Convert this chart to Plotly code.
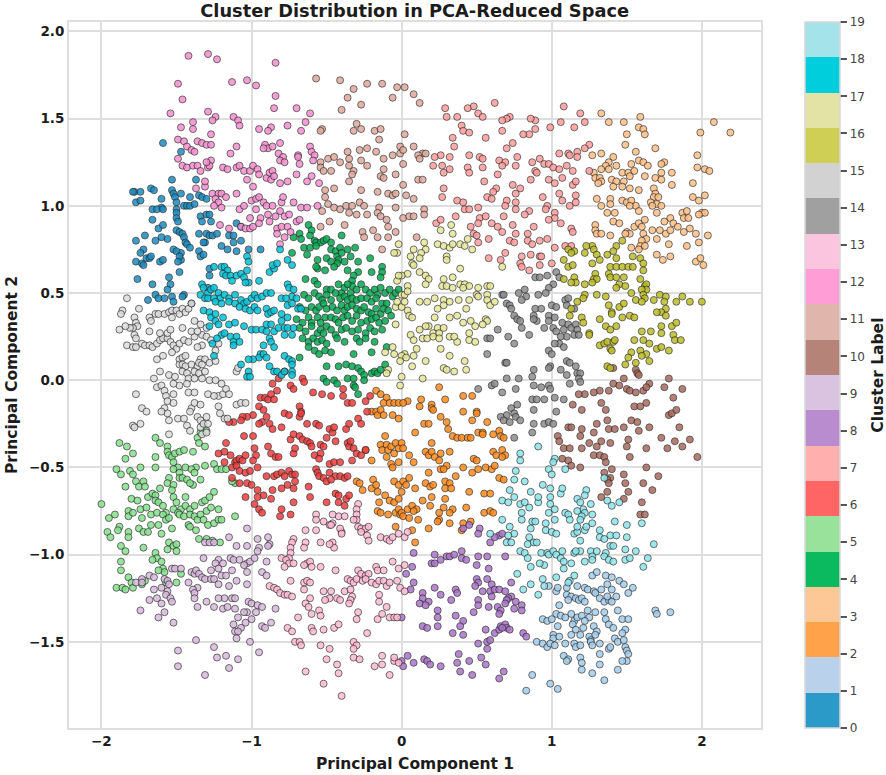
"""Cluster scatter in PCA-reduced space, 20 discrete clusters with a stepped colour bar."""
import plotly.graph_objects as go

FONT = "DejaVu Sans"
TICKS_X = [-2, -1, 0, 1, 2]
TICKS_Y = [-1.5, -1.0, -0.5, 0.0, 0.5, 1.0, 1.5, 2.0]
# colour bar bands are paler than the points themselves in the picture
BAR_COLORS = ["#2c9ac9", "#b9d1ea", "#ffa24a", "#fdc896", "#0bb95e", "#98e29b", "#ff6565", "#ffb0ae",
              "#b98ccf", "#d9c3e0", "#b58378", "#e0b5ab", "#ff9dd6", "#fbc5df", "#a0a0a0", "#d2d2d2",
              "#d0cf55", "#e4e3a6", "#00cedd", "#a3e3e9"]
POINT_COLORS = ["#1c8cc0", "#a4cdeb", "#ff8a1c", "#ffbf85", "#05a852", "#84e08c", "#ee3d3d", "#ff9c9c",
                "#aa74c8", "#d8b8dc", "#a86a5e", "#dfa99c", "#f58fcf", "#ffbad4", "#8c8c8c", "#dcdcdc",
                "#bcbc28", "#e6e69a", "#00c3d8", "#8ce4ea"]

# points, one list per cluster
C0 = [(-1.72,0.75),(-1.78,1.08),(-1.79,1.08),(-1.74,1.08),(-1.77,1.02),(-1.74,1.03),(-1.67,1.10),(-1.65,1.09),(-1.60,1.04),(-1.60,0.99),(-1.66,0.98),(-1.63,0.98),(-1.59,0.98),(-1.53,1.15),(-1.53,1.09),(-1.52,1.07),(-1.51,1.05),(-1.47,1.07),(-1.50,1.02),(-1.45,1.00),(-1.43,1.00),(-1.41,1.00),(-1.38,1.01),(-1.50,0.98),(-1.50,0.96),(-1.50,0.93),(-1.49,0.91),(-1.37,1.15),(-1.41,1.05),(-1.35,1.06),(-1.33,1.05),(-1.30,1.04),(-1.59,1.36),(-1.47,1.31),(-1.34,0.94),(-1.33,0.91),(-1.30,0.95),(-1.28,0.95),(-1.27,0.91),(-1.66,0.92),(-1.62,0.87),(-1.59,0.89),(-1.50,0.86),(-1.48,0.85),(-1.46,0.84),(-1.45,0.82),(-1.44,0.79),(-1.43,0.78),(-1.35,0.84),(-1.30,0.84),(-1.28,0.83),(-1.26,0.83),(-1.23,0.84),(-1.31,0.79),(-1.32,0.79),(-1.15,0.83),(-1.12,0.83),(-1.12,0.79),(-1.07,0.80),(-1.10,0.90),(-1.07,0.88),(-1.77,0.80),(-1.71,0.83),(-1.64,0.80),(-1.56,0.81),(-1.52,0.75),(-1.60,0.82),(-1.47,0.73),(-1.50,0.74),(-1.41,0.76),(-1.35,0.74),(-1.34,0.71),(-1.32,0.72),(-1.20,0.77),(-1.16,0.75),(-1.10,0.74),(-1.02,0.75),(-0.94,0.75),(-1.74,0.73),(-1.77,0.68),(-1.73,0.67),(-1.72,0.66),(-1.70,0.70),(-1.68,0.70),(-1.67,0.71),(-1.61,0.68),(-1.59,0.69),(-1.47,0.69),(-1.48,0.71),(-1.49,0.68),(-1.48,0.62),(-1.76,0.58),(-1.66,0.55),(-1.55,0.59),(-1.54,0.55),(-1.56,0.52),(-1.53,0.48),(-1.64,0.49),(-1.62,0.47),(-1.58,0.47),(-1.69,0.46),(-1.52,0.45),(-1.45,0.49),(-1.46,0.48),(-1.40,0.44),(-1.28,0.64),(-1.28,0.60),(-1.29,0.53)]
C1 = [(1.27,-1.12),(1.30,-1.10),(1.36,-1.12),(1.40,-1.13),(1.45,-1.15),(1.48,-1.17),(1.54,-1.19),(1.51,-1.22),(1.37,-1.17),(1.40,-1.20),(0.98,-1.18),(1.03,-1.21),(1.04,-1.19),(1.10,-1.19),(1.17,-1.18),(1.22,-1.19),(1.24,-1.20),(1.28,-1.21),(1.29,-1.22),(1.33,-1.20),(1.10,-1.23),(1.13,-1.24),(1.16,-1.25),(1.18,-1.26),(1.20,-1.25),(1.11,-1.26),(1.22,-1.27),(1.32,-1.25),(1.35,-1.27),(1.38,-1.26),(1.40,-1.27),(1.37,-1.24),(1.43,-1.24),(1.05,-1.29),(1.13,-1.34),(1.03,-1.34),(1.06,-1.35),(1.09,-1.36),(1.15,-1.38),(1.17,-1.36),(1.20,-1.35),(1.24,-1.32),(1.25,-1.36),(1.22,-1.38),(1.29,-1.33),(1.35,-1.33),(1.44,-1.32),(1.36,-1.37),(1.38,-1.40),(1.41,-1.42),(1.47,-1.37),(1.51,-1.37),(1.49,-1.43),(1.47,-1.45),(0.94,-1.37),(0.97,-1.38),(1.00,-1.37),(1.04,-1.41),(1.14,-1.40),(1.16,-1.43),(1.21,-1.42),(1.28,-1.41),(1.30,-1.44),(1.01,-1.46),(1.01,-1.48),(1.05,-1.47),(1.13,-1.46),(1.19,-1.46),(1.25,-1.47),(1.26,-1.49),(1.29,-1.46),(1.42,-1.48),(1.44,-1.50),(1.48,-1.49),(0.90,-1.50),(0.94,-1.51),(0.97,-1.53),(0.99,-1.51),(1.02,-1.52),(1.09,-1.51),(1.15,-1.51),(1.16,-1.53),(1.19,-1.52),(1.26,-1.50),(1.27,-1.52),(1.32,-1.51),(1.38,-1.54),(1.39,-1.53),(1.49,-1.53),(1.50,-1.55),(1.08,-1.58),(1.11,-1.60),(1.10,-1.61),(1.19,-1.59),(1.20,-1.62),(1.32,-1.57),(1.51,-1.57),(1.50,-1.61),(1.32,-1.63),(1.20,-1.66),(1.27,-1.68),(1.44,-1.66),(1.47,-1.61),(1.35,-1.72),(0.87,-1.69),(0.99,-1.74),(1.04,-1.77),(0.83,-1.78),(1.69,-1.32),(1.70,-1.34),(1.79,-1.33)]
C2 = [(-0.17,-0.06),(-0.14,-0.08),(-0.10,-0.10),(-0.12,-0.13),(-0.08,-0.13),(-0.05,-0.13),(-0.02,-0.13),(-0.20,-0.18),(-0.17,-0.18),(-0.16,-0.20),(-0.14,-0.17),(-0.12,-0.20),(-0.06,-0.20),(-0.02,-0.22),(-0.11,-0.32),(-0.14,-0.37),(-0.13,-0.40),(-0.10,-0.37),(-0.09,-0.40),(-0.07,-0.38),(-0.05,-0.42),(-0.04,-0.36),(-0.02,-0.39),(0.00,-0.36),(-0.24,-0.40),(-0.20,-0.46),(-0.10,-0.44),(-0.07,-0.48),(-0.06,-0.50),(-0.02,-0.47),(-0.30,-0.58),(-0.28,-0.59),(-0.26,-0.63),(-0.19,-0.57),(-0.20,-0.62),(-0.17,-0.60),(-0.16,-0.64),(-0.11,-0.66),(-0.05,-0.58),(-0.02,-0.60),(-0.08,-0.69),(-0.05,-0.70),(-0.02,-0.68),(-0.15,-0.70),(-0.04,-0.76),(-0.02,-0.74),(-0.01,-0.77),(-0.16,-0.75),(-0.14,-0.76),(-0.09,-0.77),(-0.04,-0.84),(0.00,-0.64),(0.00,-0.76),(0.25,-0.04),(0.41,-0.09),(0.47,-0.09),(0.13,-0.11),(0.29,-0.11),(0.04,-0.12),(0.01,-0.13),(0.12,-0.15),(0.20,-0.14),(0.20,-0.16),(0.21,-0.17),(0.41,-0.18),(0.50,-0.18),(0.50,-0.19),(0.26,-0.21),(0.30,-0.24),(0.47,-0.23),(0.57,-0.24),(0.15,-0.25),(0.18,-0.25),(0.09,-0.30),(0.31,-0.28),(0.34,-0.32),(0.37,-0.33),(0.40,-0.33),(0.44,-0.33),(0.46,-0.33),(0.51,-0.30),(0.54,-0.30),(0.54,-0.31),(0.61,-0.31),(0.65,-0.29),(0.66,-0.32),(0.68,-0.33),(0.20,-0.36),(0.01,-0.39),(0.05,-0.43),(0.08,-0.47),(0.16,-0.41),(0.18,-0.43),(0.20,-0.41),(0.22,-0.44),(0.26,-0.42),(0.25,-0.46),(0.32,-0.41),(0.61,-0.41),(0.63,-0.43),(0.67,-0.40),(0.69,-0.43),(0.67,-0.44),(0.48,-0.45),(0.50,-0.46),(0.30,-0.49),(0.26,-0.51),(0.28,-0.51),(0.18,-0.53),(0.41,-0.50),(0.47,-0.53),(0.51,-0.51),(0.56,-0.50),(0.60,-0.51),(0.62,-0.49),(0.36,-0.55),(0.65,-0.56),(0.68,-0.57),(0.05,-0.56),(0.01,-0.58),(0.03,-0.60),(0.09,-0.62),(0.16,-0.59),(0.19,-0.61),(0.21,-0.60),(0.29,-0.58),(0.32,-0.59),(0.29,-0.62),(0.33,-0.62),(0.45,-0.64),(0.55,-0.65),(0.59,-0.65),(0.20,-0.67),(0.29,-0.68),(0.14,-0.69),(0.04,-0.74),(0.07,-0.72),(0.10,-0.74),(0.08,-0.75),(0.19,-0.72),(0.28,-0.73),(0.34,-0.74),(0.32,-0.76),(0.43,-0.73),(0.55,-0.76),(0.59,-0.75),(0.61,-0.76),(0.25,-0.76),(0.25,-0.80),(0.24,-0.81),(0.32,-0.82),(0.11,-0.80),(0.01,-0.78),(0.05,-0.79),(0.18,-0.85),(0.07,-0.86),(0.40,-0.86),(0.41,-0.82),(0.46,-0.81),(0.09,-0.93)]
C3 = [(1.33,1.53),(1.38,1.48),(1.48,1.48),(1.59,1.51),(1.58,1.45),(1.61,1.44),(1.62,1.41),(1.50,1.41),(1.49,1.35),(1.56,1.31),(1.69,1.33),(1.27,1.29),(1.33,1.30),(1.41,1.28),(1.38,1.25),(1.36,1.23),(1.33,1.21),(1.38,1.21),(1.43,1.23),(1.53,1.24),(1.58,1.26),(1.61,1.25),(1.64,1.23),(1.75,1.25),(1.73,1.24),(1.28,1.19),(1.29,1.16),(1.32,1.16),(1.33,1.14),(1.31,1.13),(1.40,1.15),(1.47,1.19),(1.51,1.19),(1.55,1.20),(1.52,1.17),(1.43,1.14),(1.48,1.14),(1.41,1.11),(1.47,1.11),(1.52,1.10),(1.58,1.09),(1.62,1.17),(1.69,1.16),(1.73,1.19),(1.73,1.15),(1.80,1.19),(1.80,1.12),(1.68,1.10),(1.69,1.07),(1.68,1.05),(1.71,1.05),(1.66,1.02),(1.70,1.01),(1.67,1.00),(1.73,1.00),(1.70,0.96),(1.30,1.04),(1.39,1.04),(1.33,1.00),(1.39,1.01),(1.37,0.96),(1.42,0.96),(1.47,1.03),(1.50,1.02),(1.53,1.03),(1.56,1.00),(1.58,0.97),(1.52,1.00),(1.41,0.91),(1.45,0.90),(1.29,0.89),(1.29,0.86),(1.30,0.84),(1.33,0.84),(1.39,0.83),(1.50,0.85),(1.55,0.88),(1.58,0.90),(1.62,0.92),(1.60,0.88),(1.52,0.84),(1.49,0.84),(1.61,0.84),(1.63,0.81),(1.60,0.80),(1.59,0.77),(1.62,0.77),(1.58,0.75),(1.53,0.76),(1.67,0.86),(1.72,0.86),(1.75,0.91),(1.79,0.93),(1.81,0.90),(1.76,0.84),(1.79,0.86),(1.84,0.88),(1.88,0.85),(1.92,0.87),(1.96,0.84),(1.78,0.78),(1.90,0.77),(1.98,0.79),(2.04,0.83),(1.70,0.81),(1.70,0.72),(1.74,0.69),(1.79,0.71),(1.96,0.68),(1.99,0.70),(2.01,0.66),(1.97,1.29),(1.97,1.22),(2.02,1.21),(2.05,1.20),(1.94,1.13),(2.02,1.06),(1.94,1.05),(1.98,1.03),(2.00,0.96),(2.02,0.96),(1.98,0.95),(1.87,0.96),(1.90,0.97),(1.88,0.93),(1.91,0.93),(1.99,1.42),(2.08,1.48),(2.19,1.42)]
C4 = [(-0.62,0.89),(-0.60,0.86),(-0.61,0.83),(-0.58,0.80),(-0.57,0.79),(-0.54,0.79),(-0.52,0.80),(-0.50,0.81),(-0.47,0.79),(-0.40,0.83),(-0.68,0.84),(-0.67,0.81),(-0.72,0.82),(-0.65,0.76),(-0.61,0.76),(-0.57,0.77),(-0.47,0.75),(-0.44,0.74),(-0.43,0.71),(-0.41,0.76),(-0.40,0.73),(-0.36,0.75),(-0.34,0.71),(-0.31,0.76),(-0.42,0.69),(-0.43,0.67),(-0.38,0.68),(-0.36,0.63),(-0.29,0.68),(-0.21,0.70),(-0.13,0.65),(-0.13,0.62),(-0.14,0.59),(-0.73,0.73),(-0.63,0.72),(-0.56,0.69),(-0.50,0.70),(-0.47,0.68),(-0.56,0.64),(-0.57,0.65),(-0.51,0.63),(-0.45,0.65),(-0.29,0.62),(-0.32,0.60),(-0.33,0.57),(-0.33,0.54),(-0.20,0.62),(-0.64,0.58),(-0.58,0.57),(-0.56,0.55),(-0.50,0.52),(-0.47,0.52),(-0.42,0.55),(-0.40,0.50),(-0.38,0.53),(-0.36,0.55),(-0.34,0.50),(-0.30,0.52),(-0.27,0.55),(-0.24,0.52),(-0.21,0.50),(-0.18,0.52),(-0.16,0.49),(-0.14,0.53),(-0.11,0.50),(-0.08,0.52),(-0.06,0.48),(-0.04,0.50),(-0.02,0.52),(-0.65,0.49),(-0.62,0.47),(-0.58,0.50),(-0.55,0.48),(-0.53,0.46),(-0.50,0.49),(-0.47,0.46),(-0.44,0.50),(-0.41,0.47),(-0.38,0.48),(-0.36,0.46),(-0.33,0.47),(-0.30,0.46),(-0.27,0.47),(-0.23,0.47),(-0.20,0.45),(-0.17,0.47),(-0.13,0.44),(-0.10,0.44),(-0.68,0.42),(-0.64,0.40),(-0.60,0.42),(-0.57,0.40),(-0.55,0.42),(-0.52,0.44),(-0.50,0.41),(-0.46,0.42),(-0.43,0.40),(-0.40,0.43),(-0.38,0.40),(-0.36,0.42),(-0.33,0.43),(-0.30,0.41),(-0.27,0.40),(-0.25,0.42),(-0.22,0.39),(-0.20,0.38),(-0.17,0.41),(-0.14,0.38),(-0.12,0.41),(-0.09,0.40),(-0.07,0.37),(-0.70,0.35),(-0.66,0.33),(-0.62,0.36),(-0.60,0.33),(-0.56,0.36),(-0.54,0.33),(-0.51,0.36),(-0.47,0.36),(-0.44,0.35),(-0.42,0.33),(-0.39,0.36),(-0.36,0.37),(-0.33,0.34),(-0.30,0.37),(-0.27,0.33),(-0.23,0.34),(-0.20,0.35),(-0.17,0.36),(-0.15,0.33),(-0.11,0.34),(-0.68,0.30),(-0.64,0.28),(-0.60,0.31),(-0.56,0.27),(-0.54,0.29),(-0.52,0.27),(-0.50,0.31),(-0.47,0.29),(-0.44,0.26),(-0.40,0.29),(-0.37,0.30),(-0.33,0.28),(-0.29,0.29),(-0.24,0.27),(-0.21,0.30),(-0.18,0.28),(-0.13,0.29),(-0.66,0.24),(-0.62,0.22),(-0.59,0.24),(-0.56,0.22),(-0.53,0.23),(-0.50,0.21),(-0.43,0.24),(-0.38,0.22),(-0.30,0.24),(-0.28,0.22),(-0.24,0.24),(-0.18,0.22),(-0.62,0.19),(-0.58,0.17),(-0.55,0.15),(-0.51,0.17),(-0.47,0.16),(-0.32,0.15),(-0.20,0.16),(-0.10,0.19),(-0.68,0.13),(-0.50,0.08),(-0.42,0.08),(-0.37,0.09),(-0.33,0.08),(-0.29,0.07),(-0.27,0.05),(-0.25,0.03),(-0.20,0.04),(-0.18,0.05),(-0.16,0.04),(-0.14,0.06),(-0.11,0.09),(-0.36,0.01),(-0.32,0.01),(-0.52,0.01),(-0.45,0.00),(-0.50,-0.01),(-0.43,-0.02),(-0.32,-0.03),(-0.31,-0.04),(-0.29,-0.08),(-0.25,0.00)]
C5 = [(-2.00,-0.71),(-1.95,-0.79),(-1.91,-0.77),(-1.96,-0.87),(-1.94,-0.90),(-1.88,-0.84),(-1.89,-0.86),(-1.82,-0.87),(-1.82,-0.90),(-1.88,-0.36),(-1.83,-0.38),(-1.79,-0.42),(-1.84,-0.45),(-1.90,-0.51),(-1.87,-0.54),(-1.81,-0.52),(-1.79,-0.54),(-1.74,-0.50),(-1.77,-0.58),(-1.84,-0.61),(-1.75,-0.61),(-1.72,-0.58),(-1.71,-0.61),(-1.69,-0.67),(-1.66,-0.65),(-1.64,-0.66),(-1.64,-0.50),(-1.64,-0.44),(-1.64,-0.33),(-1.61,-0.36),(-1.56,-0.38),(-1.56,-0.41),(-1.55,-0.43),(-1.53,-0.44),(-1.51,-0.42),(-1.48,-0.41),(-1.45,-0.40),(-1.39,-0.41),(-1.36,-0.33),(-1.35,-0.36),(-1.34,-0.30),(-1.30,-0.29),(-1.31,-0.38),(-1.37,-0.50),(-1.31,-0.49),(-1.25,-0.48),(-1.23,-0.51),(-1.20,-0.51),(-1.17,-0.51),(-1.11,-0.59),(-1.13,-0.58),(-1.52,-0.47),(-1.49,-0.50),(-1.52,-0.51),(-1.48,-0.53),(-1.44,-0.50),(-1.40,-0.51),(-1.38,-0.53),(-1.55,-0.56),(-1.56,-0.59),(-1.48,-0.56),(-1.46,-0.56),(-1.43,-0.57),(-1.39,-0.60),(-1.41,-0.59),(-1.34,-0.57),(-1.52,-0.60),(-1.53,-0.63),(-1.52,-0.67),(-1.61,-0.62),(-1.64,-0.69),(-1.62,-0.70),(-1.50,-0.70),(-1.44,-0.67),(-1.80,-0.68),(-1.76,-0.69),(-1.74,-0.74),(-1.70,-0.73),(-1.67,-0.77),(-1.63,-0.76),(-1.59,-0.72),(-1.57,-0.76),(-1.52,-0.74),(-1.47,-0.74),(-1.44,-0.72),(-1.41,-0.74),(-1.38,-0.72),(-1.33,-0.70),(-1.31,-0.69),(-1.28,-0.67),(-1.25,-0.64),(-1.30,-0.75),(-1.27,-0.73),(-1.22,-0.74),(-1.82,-0.75),(-1.82,-0.78),(-1.79,-0.76),(-1.73,-0.79),(-1.67,-0.83),(-1.59,-0.77),(-1.57,-0.80),(-1.55,-0.79),(-1.49,-0.76),(-1.48,-0.77),(-1.45,-0.78),(-1.41,-0.77),(-1.38,-0.78),(-1.36,-0.80),(-1.42,-0.83),(-1.41,-0.84),(-1.34,-0.77),(-1.32,-0.80),(-1.29,-0.83),(-1.25,-0.82),(-1.22,-0.80),(-1.20,-0.80),(-1.11,-0.78),(-1.75,-0.85),(-1.72,-0.87),(-1.69,-0.87),(-1.62,-0.83),(-1.60,-0.88),(-1.53,-0.85),(-1.37,-0.86),(-1.35,-0.91),(-1.30,-0.91),(-1.26,-0.92),(-1.21,-0.93),(-1.55,-0.93),(-1.52,-0.95),(-1.50,-0.94),(-1.50,-0.98),(-1.56,-0.97),(-1.87,-0.95),(-1.84,-0.98),(-1.72,-0.96),(-1.64,-0.99),(-1.63,-1.02),(-1.66,-1.03),(-1.60,-1.04),(-1.59,-1.08),(-1.87,-1.04),(-1.87,-1.09),(-1.58,-1.10),(-1.47,-1.11),(-1.82,-1.13),(-1.80,-1.16),(-1.73,-1.17),(-1.71,-1.15),(-1.57,-1.16),(-1.50,-1.16),(-1.90,-1.19),(-1.86,-1.19),(-1.84,-1.20),(-1.79,-1.19),(-1.62,-1.09)]
C6 = [(-0.78,0.05),(-0.82,0.01),(-0.66,0.01),(-0.86,-0.02),(-0.74,-0.03),(-0.72,-0.05),(-0.83,-0.06),(-0.65,-0.01),(-0.59,-0.07),(-0.53,-0.08),(-0.47,-0.09),(-0.39,-0.05),(-0.39,-0.09),(-0.36,-0.13),(-0.33,-0.13),(-0.94,-0.10),(-0.91,-0.10),(-0.89,-0.11),(-0.87,-0.08),(-0.85,-0.11),(-0.95,-0.15),(-0.92,-0.17),(-0.99,-0.20),(-1.03,-0.21),(-1.06,-0.21),(-1.07,-0.23),(-1.12,-0.24),(-1.15,-0.24),(-0.90,-0.21),(-0.93,-0.24),(-0.95,-0.25),(-0.88,-0.25),(-0.78,-0.19),(-0.75,-0.20),(-0.68,-0.15),(-0.67,-0.18),(-0.68,-0.21),(-0.67,-0.19),(-0.63,-0.25),(-0.57,-0.25),(-0.55,-0.26),(-0.48,-0.28),(-0.46,-0.30),(-0.45,-0.27),(-0.37,-0.28),(-0.35,-0.25),(-0.29,-0.22),(-0.27,-0.25),(-0.23,-0.18),(-0.24,-0.12),(-0.21,-0.09),(-1.17,-0.36),(-1.05,-0.32),(-0.99,-0.32),(-0.86,-0.28),(-0.80,-0.27),(-0.74,-0.34),(-0.72,-0.31),(-0.68,-0.32),(-0.66,-0.34),(-0.63,-0.35),(-0.61,-0.36),(-0.60,-0.38),(-0.54,-0.37),(-0.52,-0.38),(-0.50,-0.33),(-0.44,-0.35),(-0.36,-0.36),(-0.35,-0.38),(-0.34,-0.35),(-0.32,-0.39),(-0.30,-0.42),(-0.27,-0.43),(-0.33,-0.46),(-0.24,-0.40),(-1.22,-0.42),(-1.18,-0.41),(-1.14,-0.43),(-1.11,-0.47),(-1.10,-0.46),(-1.08,-0.45),(-1.06,-0.46),(-1.04,-0.43),(-0.98,-0.39),(-0.97,-0.43),(-0.99,-0.46),(-0.89,-0.38),(-0.87,-0.42),(-0.84,-0.44),(-0.82,-0.44),(-0.72,-0.42),(-0.71,-0.39),(-0.58,-0.43),(-0.54,-0.42),(-0.57,-0.51),(-0.55,-0.45),(-0.56,-0.53),(-0.55,-0.55),(-0.48,-0.48),(-0.45,-0.47),(-0.41,-0.47),(-1.18,-0.47),(-1.13,-0.50),(-1.10,-0.49),(-1.08,-0.52),(-1.04,-0.53),(-1.01,-0.52),(-0.96,-0.50),(-0.90,-0.55),(-0.85,-0.55),(-0.83,-0.54),(-0.80,-0.53),(-0.78,-0.55),(-0.75,-0.52),(-0.73,-0.54),(-0.71,-0.54),(-0.48,-0.53),(-0.44,-0.55),(-0.41,-0.55),(-0.38,-0.56),(-0.36,-0.55),(-0.52,-0.56),(-0.50,-0.58),(-0.47,-0.57),(-1.13,-0.56),(-1.08,-0.59),(-1.03,-0.59),(-1.00,-0.60),(-0.96,-0.63),(-0.92,-0.66),(-0.86,-0.63),(-0.80,-0.62),(-0.76,-0.60),(-0.72,-0.62),(-0.71,-0.58),(-0.62,-0.61),(-0.44,-0.65),(-0.42,-0.66),(-0.37,-0.68),(-0.35,-0.66),(-1.04,-0.67),(-0.96,-0.67),(-0.87,-0.68),(-0.72,-0.70),(-0.61,-0.67),(-0.50,-0.70),(-0.42,-0.70),(-0.38,-0.72),(-0.98,-0.71),(-0.95,-0.74),(-0.93,-0.76),(-0.80,-0.74),(-0.81,-0.78),(-0.74,-0.77)]
C7 = [(1.08,1.57),(1.19,1.53),(1.22,1.48),(1.15,1.45),(1.06,1.48),(0.99,1.45),(0.89,1.49),(0.86,1.50),(0.89,1.44),(0.85,1.41),(0.81,1.41),(0.72,1.51),(0.70,1.50),(0.67,1.49),(0.67,1.43),(0.62,1.59),(0.48,1.57),(0.44,1.56),(0.51,1.53),(0.54,1.51),(0.37,1.51),(0.30,1.51),(0.29,1.56),(0.40,1.46),(0.41,1.43),(0.45,1.42),(0.34,1.39),(0.35,1.34),(0.56,1.39),(0.70,1.33),(0.74,1.36),(1.25,1.35),(1.22,1.33),(1.17,1.31),(1.11,1.30),(1.12,1.29),(1.05,1.30),(1.17,1.28),(0.45,1.29),(0.52,1.28),(0.54,1.27),(0.32,1.28),(0.26,1.29),(0.22,1.28),(0.21,1.23),(0.27,1.23),(0.32,1.21),(0.28,1.19),(0.44,1.22),(0.45,1.19),(0.54,1.22),(0.65,1.26),(0.69,1.25),(0.67,1.23),(0.77,1.28),(0.76,1.23),(0.64,1.18),(0.87,1.25),(0.92,1.27),(0.95,1.24),(0.98,1.24),(1.01,1.22),(1.05,1.21),(0.89,1.20),(0.90,1.19),(1.10,1.23),(1.14,1.20),(1.25,1.20),(0.98,1.15),(1.02,1.13),(1.07,1.16),(1.14,1.12),(1.16,1.14),(0.55,1.14),(0.86,1.15),(0.74,1.12),(0.79,1.10),(0.76,1.07),(0.63,1.10),(0.61,1.08),(0.57,1.05),(0.60,1.04),(0.28,1.10),(0.27,1.05),(0.70,1.03),(0.76,1.02),(0.69,1.00),(0.76,0.98),(0.94,1.05),(1.05,1.07),(1.07,1.03),(1.12,1.00),(1.16,1.02),(1.16,1.06),(0.37,1.03),(0.41,1.02),(0.42,0.98),(0.45,0.98),(0.51,0.99),(0.85,0.97),(0.82,0.95),(0.97,1.00),(0.96,0.98),(1.02,0.96),(1.02,0.93),(1.06,0.90),(0.68,0.94),(0.52,0.93),(0.56,0.94),(0.51,0.90),(0.46,0.88),(0.48,0.84),(0.36,0.94),(0.60,0.90),(0.64,0.88),(0.67,0.85),(0.74,0.89),(0.76,0.84),(0.50,0.83),(0.51,0.79),(0.58,0.81),(0.72,0.80),(0.75,0.79),(0.84,0.84),(0.88,0.88),(0.84,0.80),(0.87,0.78),(0.92,0.80),(0.97,0.81),(1.02,0.76),(1.09,0.77),(1.13,0.77),(1.13,0.87),(1.14,0.85),(0.98,0.92),(0.58,0.70),(0.69,0.73),(0.66,0.69),(0.80,0.71),(0.79,0.67),(0.80,0.65),(0.86,0.72),(0.92,0.71),(0.93,0.71),(0.85,0.63),(0.92,0.66),(1.00,0.67),(0.23,0.90),(0.26,0.92)]
C8 = [(0.45,-0.83),(0.41,-0.85),(0.52,-0.85),(0.51,-0.88),(0.65,-0.89),(0.59,-0.93),(0.62,-0.90),(0.67,-0.88),(0.08,-0.99),(0.22,-1.00),(0.20,-1.05),(0.22,-1.05),(0.26,-1.03),(0.30,-1.01),(0.32,-1.01),(0.35,-1.00),(0.40,-0.98),(0.40,-1.02),(0.43,-1.03),(0.51,-1.01),(0.57,-1.01),(0.50,-1.06),(0.69,-1.01),(0.58,-1.08),(0.07,-1.07),(0.03,-1.11),(0.50,-1.14),(0.51,-1.16),(0.57,-1.14),(0.60,-1.17),(0.73,-1.16),(0.08,-1.16),(0.06,-1.20),(0.22,-1.19),(0.26,-1.23),(0.36,-1.20),(0.37,-1.22),(0.33,-1.26),(0.14,-1.22),(0.14,-1.25),(0.18,-1.27),(0.12,-1.28),(0.16,-1.29),(0.49,-1.18),(0.54,-1.21),(0.59,-1.21),(0.62,-1.20),(0.65,-1.20),(0.69,-1.21),(0.60,-1.24),(0.73,-1.24),(0.76,-1.27),(0.71,-1.25),(0.70,-1.26),(0.69,-1.28),(0.80,-1.29),(0.51,-1.26),(0.51,-1.29),(0.58,-1.30),(0.64,-1.30),(0.66,-1.32),(0.65,-1.34),(0.75,-1.31),(0.80,-1.32),(0.48,-1.33),(0.24,-1.32),(0.24,-1.36),(0.36,-1.35),(0.41,-1.38),(0.00,-1.36),(0.14,-1.41),(0.17,-1.42),(0.24,-1.41),(0.39,-1.41),(0.34,-1.45),(0.41,-1.46),(0.56,-1.43),(0.62,-1.45),(0.65,-1.43),(0.66,-1.41),(0.69,-1.40),(0.70,-1.42),(0.72,-1.43),(0.67,-1.42),(0.81,-1.45),(0.83,-1.47),(0.57,-1.50),(0.59,-1.49),(0.51,-1.51),(0.57,-1.54),(0.04,-1.58),(0.00,-1.61),(0.08,-1.62),(0.15,-1.60),(0.17,-1.61),(0.19,-1.63),(0.26,-1.64),(0.38,-1.57),(0.37,-1.62),(0.45,-1.61),(0.53,-1.59),(0.56,-1.63),(0.39,-1.67),(0.47,-1.69),(0.65,-1.71),(0.68,-1.67),(0.01,-1.64)]
C9 = [(-1.03,-0.85),(-1.15,-0.90),(-1.10,-0.95),(-1.03,-0.95),(-0.96,-0.91),(-0.89,-0.90),(-0.88,-0.94),(-0.95,-0.96),(-0.89,-0.95),(-1.31,-0.93),(-1.28,-0.93),(-1.25,-0.93),(-1.32,-1.02),(-1.22,-1.03),(-1.14,-1.02),(-1.12,-1.03),(-1.08,-1.03),(-1.03,-1.05),(-1.01,-1.04),(-0.98,-1.02),(-0.96,-0.98),(-0.90,-1.04),(-1.03,-1.10),(-1.03,-1.17),(-1.05,-1.06),(-1.24,-1.05),(-1.22,-1.08),(-1.19,-1.05),(-1.20,-1.12),(-1.17,-1.12),(-1.13,-1.09),(-1.10,-1.15),(-0.93,-1.10),(-0.90,-1.12),(-1.53,-1.08),(-1.51,-1.08),(-1.47,-1.08),(-1.40,-1.10),(-1.38,-1.11),(-1.37,-1.09),(-1.35,-1.11),(-1.33,-1.13),(-1.31,-1.14),(-1.27,-1.14),(-1.25,-1.14),(-1.27,-1.09),(-1.73,-1.14),(-1.77,-1.16),(-1.73,-1.16),(-1.68,-1.12),(-1.65,-1.13),(-1.58,-1.14),(-1.56,-1.15),(-1.55,-1.17),(-1.60,-1.19),(-1.56,-1.21),(-1.65,-1.20),(-1.42,-1.16),(-1.36,-1.19),(-1.39,-1.20),(-1.38,-1.22),(-1.22,-1.17),(-1.15,-1.18),(-1.18,-1.25),(-1.22,-1.25),(-1.13,-1.25),(-1.11,-1.25),(-1.25,-1.30),(-1.30,-1.27),(-1.36,-1.30),(-1.38,-1.25),(-1.57,-1.23),(-1.54,-1.25),(-1.53,-1.27),(-1.68,-1.26),(-1.63,-1.25),(-1.60,-1.28),(-1.74,-1.32),(-1.58,-1.33),(-1.52,-1.39),(-1.62,-1.36),(-1.19,-1.31),(-1.16,-1.30),(-1.11,-1.31),(-1.03,-1.33),(-1.05,-1.33),(-1.02,-1.27),(-1.00,-1.28),(-0.96,-1.29),(-0.93,-1.30),(-0.97,-1.33),(-0.84,-1.31),(-1.09,-1.36),(-1.00,-1.37),(-1.04,-1.39),(-1.12,-1.40),(-1.11,-1.44),(-1.07,-1.42),(-0.93,-1.41),(-0.87,-1.39),(-0.91,-1.42),(-1.10,-1.48),(-1.09,-1.44),(-1.01,-1.50),(-1.37,-1.49),(-1.25,-1.53),(-1.49,-1.55),(-0.95,-1.56),(-1.49,-1.64),(-1.23,-1.59),(-1.17,-1.58),(-1.09,-1.60),(-1.15,-1.65),(-1.31,-1.69)]
C10 = [(1.41,-0.02),(1.45,-0.03),(1.38,-0.06),(1.50,-0.05),(1.52,-0.06),(1.56,-0.07),(1.61,-0.06),(1.65,-0.02),(1.63,-0.04),(1.75,-0.04),(1.87,-0.05),(1.81,-0.10),(1.32,-0.06),(1.28,-0.07),(1.22,-0.08),(1.18,-0.08),(1.14,-0.14),(1.20,-0.17),(1.33,-0.13),(1.36,-0.17),(1.55,-0.15),(1.59,-0.15),(1.63,-0.13),(1.78,-0.20),(1.80,-0.19),(1.83,-0.17),(1.37,-0.23),(1.30,-0.25),(1.11,-0.27),(1.13,-0.27),(1.20,-0.28),(1.28,-0.30),(1.38,-0.28),(1.42,-0.28),(1.48,-0.27),(1.53,-0.23),(1.57,-0.24),(1.58,-0.29),(1.65,-0.27),(1.85,-0.27),(1.04,-0.32),(1.19,-0.32),(1.33,-0.35),(1.39,-0.36),(1.51,-0.34),(1.50,-0.38),(1.25,-0.36),(1.05,-0.35),(1.08,-0.39),(1.12,-0.39),(1.20,-0.39),(1.30,-0.38),(1.28,-0.43),(1.32,-0.43),(1.35,-0.44),(1.36,-0.47),(1.52,-0.44),(1.63,-0.39),(1.73,-0.33),(1.77,-0.39),(1.82,-0.35),(1.87,-0.38),(1.92,-0.34),(1.97,-0.44),(1.07,-0.45),(1.11,-0.46),(1.13,-0.49),(1.19,-0.50),(1.35,-0.53),(1.40,-0.51),(1.48,-0.54),(1.39,-0.56),(1.37,-0.57),(1.63,-0.50),(1.71,-0.55),(1.61,-0.59),(1.38,-0.59),(1.49,-0.59),(1.37,-0.64),(1.33,-0.67),(1.51,-0.64),(1.67,-0.63),(1.48,-0.68),(1.60,-0.70),(1.59,-0.77),(1.62,-0.77),(1.48,0.01),(1.78,0.01),(1.56,0.06),(1.57,0.04),(1.41,0.07),(1.58,0.03)]
C11 = [(-0.57,1.73),(-0.41,1.72),(-0.32,1.67),(-0.36,1.62),(-0.40,1.55),(-0.27,1.58),(-0.23,1.70),(-0.13,1.70),(-0.03,1.68),(-0.06,1.62),(-0.53,1.44),(-0.54,1.43),(-0.32,1.43),(-0.30,1.47),(-0.27,1.44),(-0.18,1.43),(-0.14,1.44),(-0.15,1.38),(-0.36,1.31),(-0.28,1.32),(-0.23,1.33),(-0.17,1.31),(-0.12,1.27),(-0.06,1.29),(-0.01,1.34),(-0.01,1.30),(-0.54,1.25),(-0.49,1.27),(-0.45,1.28),(-0.41,1.25),(-0.35,1.27),(-0.35,1.23),(-0.27,1.26),(-0.23,1.23),(-0.54,1.22),(-0.52,1.20),(-0.47,1.20),(-0.32,1.20),(-0.33,1.18),(-0.12,1.21),(-0.14,1.17),(-0.12,1.16),(-0.04,1.18),(-0.35,1.14),(-0.45,1.10),(-0.51,1.09),(-0.27,1.09),(-0.16,1.08),(-0.51,1.05),(-0.09,1.07),(-0.06,1.06),(-0.04,1.07),(-0.04,0.99),(-0.49,1.01),(-0.45,0.99),(-0.41,0.98),(-0.37,1.00),(-0.33,1.00),(-0.28,1.02),(-0.25,1.00),(-0.15,0.99),(-0.53,0.97),(-0.35,0.96),(-0.30,0.95),(-0.16,0.96),(-0.23,0.95),(-0.14,0.94),(-0.10,0.92),(-0.48,0.91),(-0.54,0.88),(-0.38,0.89),(-0.09,0.88),(-0.04,0.85),(-0.19,0.86),(-0.16,0.82),(-0.09,0.82),(-0.26,0.85),(-0.25,0.82),(-0.13,0.75),(0.02,1.68),(0.08,1.64),(0.12,1.59),(0.02,1.41),(0.08,1.34),(0.01,1.32),(0.14,1.30),(0.16,1.30),(0.11,1.29),(0.12,1.27),(0.01,1.24),(0.11,1.15),(0.14,1.15),(0.01,1.12),(0.03,1.06),(0.08,1.04),(0.01,0.93),(0.05,0.94),(0.08,0.94),(0.15,0.98),(0.15,0.95),(0.10,0.82)]
C12 = [(-1.42,1.86),(-1.29,1.87),(-1.23,1.84),(-0.84,1.82),(-1.49,1.70),(-1.46,1.61),(-1.13,1.71),(-1.03,1.72),(-0.97,1.69),(-0.84,1.63),(-0.85,1.56),(-0.70,1.56),(-0.61,1.53),(-0.64,1.48),(-0.67,1.43),(-0.76,1.46),(-0.87,1.45),(-0.89,1.43),(-0.95,1.44),(-1.12,1.51),(-1.09,1.49),(-1.08,1.46),(-1.24,1.51),(-1.26,1.49),(-1.29,1.54),(-1.39,1.48),(-1.39,1.44),(-1.47,1.45),(-1.54,1.53),(-1.27,1.41),(-1.49,1.38),(-1.45,1.37),(-1.43,1.34),(-1.40,1.32),(-1.38,1.31),(-1.36,1.37),(-1.33,1.36),(-1.30,1.35),(-1.27,1.35),(-1.10,1.34),(-1.14,1.30),(-0.91,1.35),(-0.89,1.33),(-0.92,1.33),(-0.86,1.34),(-0.81,1.36),(-0.82,1.30),(-0.79,1.28),(-0.81,1.26),(-0.78,1.25),(-0.69,1.29),(-0.69,1.28),(-0.68,1.24),(-0.61,1.34),(-0.60,1.31),(-0.58,1.29),(-0.59,1.26),(-1.49,1.27),(-1.46,1.23),(-1.43,1.22),(-1.39,1.23),(-1.36,1.23),(-1.34,1.20),(-1.29,1.22),(-1.27,1.26),(-1.28,1.23),(-1.30,1.25),(-1.19,1.22),(-1.16,1.21),(-1.10,1.22),(-1.08,1.23),(-1.05,1.20),(-1.01,1.20),(-0.99,1.23),(-0.96,1.21),(-0.95,1.18),(-0.90,1.16),(-0.88,1.19),(-0.86,1.20),(-0.87,1.15),(-0.85,1.17),(-0.81,1.13),(-0.76,1.14),(-0.70,1.18),(-0.63,1.14),(-0.60,1.17),(-0.55,1.13),(-1.03,1.15),(-0.99,1.11),(-1.37,1.10),(-1.31,1.11),(-1.31,1.14),(-1.26,1.07),(-1.22,1.07),(-1.20,1.07),(-1.17,1.05),(-1.24,1.04),(-1.22,1.02),(-1.25,1.00),(-1.20,0.99),(-1.10,1.07),(-1.08,0.98),(-1.05,1.00),(-1.00,1.03),(-0.97,1.04),(-0.95,1.05),(-0.92,1.02),(-0.90,1.00),(-0.97,0.98),(-0.86,1.00),(-0.81,0.97),(-0.80,1.02),(-0.79,1.05),(-0.72,1.02),(-0.67,0.99),(-0.63,0.99),(-0.56,1.00),(-1.01,0.93),(-0.94,0.93),(-0.89,0.95),(-0.88,0.91),(-0.84,0.94),(-0.78,0.94),(-0.75,0.95),(-0.70,0.91),(-0.68,0.92),(-1.21,0.89),(-1.15,0.87),(-1.07,0.88),(-1.04,0.87),(-1.01,0.87),(-0.99,0.88),(-0.95,0.90),(-0.83,0.87),(-0.80,0.88),(-0.83,0.84),(-0.76,0.88),(-0.74,0.85),(-0.78,0.82),(-0.81,0.78)]
C13 = [(-0.29,-0.71),(-0.30,-0.74),(-0.30,-0.77),(-0.30,-0.80),(-0.42,-0.78),(-0.38,-0.78),(-0.46,-0.77),(-0.57,-0.77),(-0.57,-0.80),(-0.52,-0.81),(-0.46,-0.82),(-0.48,-0.83),(-0.47,-0.83),(-0.32,-0.80),(-0.29,-0.84),(-0.27,-0.85),(-0.24,-0.85),(-0.22,-0.84),(-0.27,-0.87),(-0.23,-0.89),(-0.22,-0.92),(-0.40,-0.87),(-0.41,-0.85),(-0.40,-0.88),(-0.64,-0.86),(-0.57,-0.86),(-0.14,-0.90),(-0.10,-0.91),(-0.08,-0.92),(-0.06,-0.90),(-0.02,-0.88),(0.02,-0.90),(0.04,-0.87),(-0.72,-0.91),(-0.73,-0.93),(-0.74,-0.96),(-0.64,-0.93),(-0.65,-0.96),(-0.54,-0.93),(-0.46,-0.93),(-0.45,-0.96),(-0.48,-0.94),(-0.74,-0.99),(-0.75,-1.02),(-0.80,-1.02),(-0.77,-1.03),(-0.75,-1.05),(-0.72,-1.05),(-0.78,-1.07),(-0.63,-1.05),(-0.61,-1.04),(-0.65,-1.06),(-0.60,-1.07),(-0.54,-1.07),(-0.44,-1.09),(-0.29,-1.09),(-0.27,-1.11),(-0.24,-1.12),(-0.22,-1.11),(-0.17,-1.07),(-0.16,-1.09),(-0.12,-1.09),(-0.06,-1.04),(-0.02,-1.08),(0.02,-1.06),(-0.74,-1.15),(-0.65,-1.16),(-0.63,-1.15),(-0.61,-1.16),(-0.36,-1.14),(-0.34,-1.15),(-0.32,-1.16),(-0.30,-1.14),(-0.26,-1.15),(-0.24,-1.14),(-0.20,-1.16),(-0.17,-1.17),(-0.15,-1.15),(-0.12,-1.15),(-0.10,-1.18),(-0.08,-1.16),(-0.03,-1.15),(-0.01,-1.19),(0.02,-1.21),(-0.88,-1.18),(-0.85,-1.19),(-0.83,-1.20),(-0.81,-1.22),(-0.78,-1.23),(-0.76,-1.23),(-0.73,-1.24),(-0.65,-1.20),(-0.61,-1.25),(-0.52,-1.21),(-0.47,-1.21),(-0.48,-1.25),(-0.43,-1.25),(-0.51,-1.26),(-0.41,-1.26),(-0.38,-1.21),(-0.34,-1.20),(-0.33,-1.24),(-0.34,-1.26),(-0.35,-1.28),(-0.64,-1.28),(-0.62,-1.30),(-0.55,-1.32),(-0.60,-1.34),(-0.30,-1.37),(-0.29,-1.33),(-0.16,-1.37),(-0.13,-1.34),(-0.10,-1.30),(-0.15,-1.27),(-0.15,-1.23),(-0.08,-1.36),(-0.05,-1.36),(-0.03,-1.36),(-0.69,-1.36),(-0.54,-1.35),(-0.76,-1.42),(-0.73,-1.44),(-0.60,-1.42),(-0.59,-1.44),(-0.52,-1.43),(-0.45,-1.42),(-0.42,-1.40),(-0.23,-1.45),(-0.71,-1.50),(-0.68,-1.50),(-0.67,-1.52),(-0.54,-1.52),(-0.48,-1.54),(-0.32,-1.50),(-0.30,-1.52),(-0.32,-1.54),(-0.50,-1.60),(-0.43,-1.63),(-0.32,-1.59),(-0.28,-1.60),(-0.18,-1.64),(-0.13,-1.58),(-0.13,-1.63),(-0.08,-1.69),(-0.05,-1.61),(-0.64,-1.67),(-0.42,-1.68),(-0.52,-1.74),(-0.40,-1.81),(-0.02,-1.62),(-0.05,-1.59)]
C14 = [(0.89,0.59),(0.92,0.59),(0.97,0.60),(1.03,0.62),(1.05,0.59),(1.01,0.55),(0.98,0.53),(0.96,0.50),(0.67,0.49),(0.68,0.49),(0.78,0.50),(0.82,0.52),(0.83,0.48),(0.91,0.49),(0.80,0.46),(0.70,0.44),(0.72,0.43),(0.73,0.41),(0.75,0.37),(0.77,0.35),(0.79,0.34),(0.80,0.30),(0.64,0.29),(0.57,0.24),(0.59,0.24),(0.71,0.25),(0.75,0.21),(0.85,0.26),(0.57,0.15),(0.69,0.10),(0.70,0.10),(0.98,0.17),(1.00,0.15),(0.99,0.08),(0.98,0.07),(0.88,0.06),(0.87,0.02),(0.89,0.41),(0.88,0.37),(0.93,0.41),(1.00,0.43),(1.03,0.42),(0.90,0.34),(0.88,0.35),(0.95,0.30),(0.98,0.37),(1.02,0.36),(0.98,0.34),(1.01,0.30),(1.03,0.28),(1.07,0.33),(1.08,0.29),(1.11,0.32),(1.13,0.30),(1.16,0.32),(1.17,0.29),(1.10,0.25),(1.06,0.25),(1.15,0.26),(1.18,0.26),(1.05,0.21),(1.08,0.19),(1.02,0.21),(1.10,0.11),(1.12,0.10),(1.16,0.08),(1.17,0.04),(1.19,0.04),(1.06,0.06),(1.10,0.03),(1.09,0.46),(1.10,0.43),(1.11,0.47),(1.15,0.41),(1.18,0.01),(0.78,0.01),(0.70,0.01),(0.51,-0.05),(0.60,-0.03),(0.62,-0.02),(0.67,-0.07),(0.76,-0.05),(0.88,-0.03),(0.93,-0.04),(0.98,-0.03),(0.99,-0.05),(0.87,-0.11),(0.90,-0.11),(0.95,-0.11),(1.02,-0.10),(1.08,-0.11),(0.88,-0.17),(1.03,-0.18),(0.77,-0.14),(0.73,-0.16),(0.75,-0.19),(0.70,-0.20),(0.66,-0.21),(0.68,-0.23),(0.72,-0.24),(0.76,-0.21),(0.79,-0.23),(0.88,-0.25),(0.95,-0.25),(0.98,-0.24),(1.01,-0.25),(0.87,-0.30),(0.75,-0.33),(1.12,-0.02),(1.19,-0.01)]
C15 = [(-1.83,0.47),(-1.75,0.41),(-1.86,0.40),(-1.87,0.38),(-1.78,0.36),(-1.77,0.33),(-1.76,0.31),(-1.79,0.30),(-1.81,0.30),(-1.84,0.31),(-1.88,0.29),(-1.78,0.26),(-1.77,0.24),(-1.83,0.20),(-1.79,0.19),(-1.77,0.19),(-1.73,0.21),(-1.71,0.20),(-1.68,0.20),(-1.66,0.19),(-1.63,0.21),(-1.61,0.23),(-1.59,0.24),(-1.56,0.24),(-1.54,0.22),(-1.52,0.20),(-1.50,0.18),(-1.48,0.21),(-1.45,0.23),(-1.42,0.22),(-1.38,0.25),(-1.33,0.26),(-1.30,0.25),(-1.27,0.23),(-1.33,0.20),(-1.36,0.19),(-1.22,0.21),(-1.24,0.17),(-1.68,0.28),(-1.61,0.27),(-1.56,0.27),(-1.54,0.29),(-1.46,0.30),(-1.40,0.28),(-1.36,0.28),(-1.30,0.30),(-1.34,0.32),(-1.64,0.38),(-1.62,0.38),(-1.58,0.38),(-1.55,0.39),(-1.53,0.40),(-1.50,0.40),(-1.48,0.38),(-1.46,0.41),(-1.44,0.39),(-1.42,0.41),(-1.40,0.44),(-1.53,0.36),(-1.68,0.36),(-1.67,0.34),(-1.38,0.34),(-1.63,0.12),(-1.59,0.14),(-1.53,0.16),(-1.48,0.12),(-1.46,0.13),(-1.44,0.14),(-1.48,0.09),(-1.46,0.09),(-1.44,0.08),(-1.40,0.09),(-1.36,0.08),(-1.34,0.12),(-1.31,0.12),(-1.28,0.10),(-1.24,0.11),(-1.35,0.10),(-1.33,0.09),(-1.46,0.05),(-1.43,0.04),(-1.38,0.05),(-1.35,0.04),(-1.31,0.05),(-1.61,0.05),(-1.55,0.03),(-1.51,0.02),(-1.65,0.01),(-1.42,0.01),(-1.38,0.01),(-1.33,0.01),(-1.28,0.00),(-1.24,0.00),(-1.10,0.05),(-1.09,0.07),(-1.77,-0.08),(-1.63,-0.04),(-1.60,-0.03),(-1.58,-0.06),(-1.57,-0.09),(-1.56,-0.12),(-1.52,-0.13),(-1.52,-0.08),(-1.58,-0.16),(-1.56,-0.19),(-1.55,-0.23),(-1.49,-0.22),(-1.73,-0.16),(-1.70,-0.18),(-1.60,-0.18),(-1.45,-0.22),(-1.43,-0.26),(-1.41,-0.29),(-1.40,-0.16),(-1.38,-0.13),(-1.41,-0.18),(-1.36,-0.21),(-1.34,-0.23),(-1.34,-0.27),(-1.32,-0.25),(-1.30,-0.21),(-1.29,-0.25),(-1.33,-0.31),(-1.30,-0.30),(-1.22,-0.15),(-1.21,-0.19),(-1.18,-0.22),(-1.16,-0.22),(-1.10,-0.14),(-1.07,-0.13),(-1.04,-0.13),(-1.22,-0.09),(-1.19,-0.08),(-1.29,-0.08),(-1.42,-0.07),(-1.34,-0.14),(-1.74,-0.25),(-1.79,-0.26),(-1.78,-0.27),(-1.55,-0.31),(-1.38,-0.07),(-1.43,-0.02),(-1.48,-0.03),(-1.52,-0.02),(-1.25,-0.09),(-1.17,-0.05),(-1.15,-0.08),(-1.20,-0.02)]
C16 = [(1.47,0.80),(1.43,0.77),(1.41,0.74),(1.27,0.77),(1.23,0.77),(1.22,0.73),(1.28,0.75),(1.30,0.72),(1.32,0.69),(1.11,0.75),(1.15,0.74),(1.13,0.73),(1.08,0.69),(1.11,0.65),(1.14,0.66),(1.08,0.58),(1.15,0.59),(1.16,0.56),(1.13,0.56),(1.27,0.67),(1.39,0.65),(1.43,0.65),(1.47,0.65),(1.51,0.65),(1.54,0.65),(1.37,0.72),(1.43,0.70),(1.54,0.71),(1.59,0.70),(1.61,0.67),(1.61,0.63),(1.38,0.61),(1.39,0.59),(1.29,0.61),(1.28,0.58),(1.30,0.58),(1.22,0.55),(1.27,0.56),(1.43,0.59),(1.48,0.59),(1.45,0.55),(1.49,0.54),(1.43,0.53),(1.59,0.58),(1.62,0.54),(1.63,0.55),(1.63,0.52),(1.60,0.52),(1.53,0.50),(1.61,0.49),(1.62,0.47),(1.56,0.46),(1.60,0.45),(1.22,0.49),(1.21,0.47),(1.17,0.45),(1.13,0.41),(1.12,0.37),(1.30,0.49),(1.36,0.48),(1.38,0.43),(1.40,0.39),(1.45,0.42),(1.48,0.44),(1.68,0.46),(1.72,0.49),(1.76,0.48),(1.75,0.45),(1.76,0.41),(1.73,0.39),(1.70,0.39),(1.76,0.37),(1.83,0.45),(1.87,0.48),(1.92,0.45),(2.00,0.45),(1.20,0.36),(1.21,0.33),(1.32,0.35),(1.36,0.31),(1.39,0.29),(1.43,0.31),(1.47,0.36),(1.52,0.37),(1.55,0.36),(1.40,0.38),(1.25,0.27),(1.25,0.26),(1.32,0.20),(1.35,0.21),(1.37,0.22),(1.41,0.22),(1.39,0.18),(1.40,0.17),(1.42,0.23),(1.55,0.23),(1.61,0.23),(1.65,0.21),(1.60,0.28),(1.66,0.28),(1.73,0.31),(1.73,0.27),(1.80,0.31),(1.83,0.33),(1.81,0.26),(1.82,0.23),(1.86,0.23),(1.70,0.18),(1.73,0.19),(1.78,0.17),(1.53,0.16),(1.59,0.17),(1.63,0.15),(1.60,0.14),(1.51,0.13),(1.65,0.11),(1.49,0.09),(1.56,0.10),(1.37,0.08),(1.39,0.07)]
C17 = [(0.26,0.86),(0.33,0.89),(0.34,0.84),(0.15,0.79),(0.16,0.75),(0.24,0.78),(0.28,0.77),(0.32,0.76),(0.34,0.78),(0.39,0.78),(0.44,0.81),(0.42,0.77),(0.47,0.75),(0.08,0.75),(0.06,0.71),(0.13,0.73),(0.12,0.70),(0.07,0.67),(0.08,0.66),(0.04,0.61),(0.00,0.60),(0.12,0.62),(0.16,0.60),(0.18,0.58),(0.16,0.55),(0.04,0.54),(0.67,0.65),(0.30,0.71),(0.30,0.69),(0.39,0.64),(0.28,0.58),(0.34,0.59),(0.27,0.54),(0.30,0.54),(0.34,0.53),(0.39,0.55),(0.42,0.55),(0.45,0.54),(0.41,0.53),(0.51,0.53),(0.57,0.54),(0.59,0.54),(0.50,0.49),(0.57,0.49),(0.00,0.49),(0.02,0.49),(0.04,0.51),(0.12,0.45),(0.17,0.45),(0.22,0.47),(0.28,0.46),(0.32,0.45),(0.38,0.46),(0.45,0.46),(0.51,0.48),(0.57,0.46),(0.59,0.43),(0.62,0.45),(0.28,0.43),(0.24,0.41),(0.04,0.40),(0.05,0.37),(0.07,0.36),(0.43,0.41),(0.37,0.37),(0.32,0.36),(0.41,0.33),(0.46,0.34),(0.49,0.31),(0.56,0.35),(0.57,0.34),(0.54,0.32),(0.22,0.36),(0.18,0.31),(0.12,0.29),(0.16,0.31),(0.24,0.30),(0.21,0.27),(0.25,0.27),(0.28,0.30),(0.06,0.26),(0.08,0.23),(0.14,0.24),(0.17,0.24),(0.21,0.25),(0.25,0.24),(0.32,0.25),(0.37,0.22),(0.35,0.25),(0.45,0.27),(0.45,0.23),(0.49,0.22),(0.26,0.18),(0.10,0.18),(0.02,0.15),(0.08,0.14),(0.00,0.14),(0.32,0.14),(0.16,0.11),(0.07,0.08),(0.42,0.11),(0.28,0.07),(0.30,0.06),(0.35,0.05),(0.43,0.06),(0.14,0.01),(-0.03,0.57),(-0.02,0.60),(-0.03,0.73),(-0.05,0.73),(-0.02,0.78),(-0.04,0.42),(-0.03,0.45),(-0.06,0.19),(-0.11,0.16),(-0.05,0.15),(-0.04,0.32),(-0.09,0.06),(-0.10,0.04),(0.00,0.42),(0.02,0.45),(-0.01,0.11),(0.03,0.13),(0.00,0.02),(-0.01,-0.03)]
C18 = [(-0.81,0.75),(-1.03,0.71),(-1.02,0.68),(-1.25,0.65),(-1.20,0.65),(-1.18,0.65),(-1.16,0.63),(-1.19,0.61),(-1.17,0.60),(-1.14,0.60),(-1.13,0.57),(-1.10,0.60),(-1.07,0.61),(-1.05,0.59),(-1.02,0.56),(-1.03,0.63),(-1.04,0.56),(-0.95,0.57),(-0.88,0.62),(-0.85,0.64),(-0.86,0.66),(-0.83,0.67),(-0.76,0.69),(-0.73,0.66),(-0.76,0.55),(-0.75,0.53),(-0.72,0.52),(-0.73,0.48),(-0.70,0.47),(-1.33,0.55),(-1.32,0.53),(-1.29,0.50),(-1.27,0.52),(-1.25,0.53),(-1.22,0.50),(-1.21,0.47),(-1.18,0.49),(-1.15,0.47),(-1.11,0.49),(-1.07,0.46),(-1.05,0.44),(-1.03,0.45),(-1.00,0.47),(-0.98,0.49),(-0.96,0.47),(-0.93,0.48),(-0.90,0.50),(-0.87,0.50),(-0.80,0.47),(-0.77,0.47),(-0.76,0.43),(-0.73,0.44),(-0.69,0.41),(-0.67,0.41),(-1.34,0.49),(-1.31,0.47),(-1.29,0.47),(-1.25,0.47),(-1.24,0.45),(-1.20,0.44),(-1.15,0.45),(-1.11,0.44),(-1.08,0.42),(-1.04,0.41),(-1.01,0.40),(-0.98,0.42),(-0.96,0.40),(-0.90,0.41),(-0.89,0.38),(-0.87,0.39),(-0.85,0.40),(-0.80,0.38),(-0.76,0.36),(-1.32,0.40),(-1.28,0.39),(-1.27,0.36),(-1.24,0.34),(-1.24,0.38),(-1.19,0.36),(-1.22,0.32),(-1.15,0.32),(-1.11,0.33),(-1.14,0.25),(-1.10,0.25),(-1.12,0.22),(-1.08,0.22),(-1.12,0.20),(-1.20,0.26),(-1.18,0.27),(-1.05,0.31),(-1.00,0.29),(-0.97,0.29),(-0.93,0.29),(-0.90,0.28),(-0.88,0.24),(-0.85,0.28),(-0.90,0.32),(-0.87,0.32),(-0.80,0.34),(-0.82,0.30),(-0.78,0.30),(-0.76,0.30),(-0.73,0.26),(-0.78,0.26),(-0.72,0.30),(-0.87,0.22),(-0.85,0.19),(-0.92,0.20),(-0.94,0.15),(-0.95,0.13),(-0.92,0.15),(-0.99,0.12),(-1.02,0.12),(-0.90,0.13),(-0.78,0.14),(-0.75,0.12),(-0.73,0.11),(-0.73,0.09),(-0.73,0.05),(-0.73,0.03),(-0.88,0.08),(-0.85,0.05),(-0.83,0.05),(-0.80,0.03),(-0.78,0.05),(-1.07,0.09),(-1.02,0.05),(-1.03,0.02),(-1.01,0.02),(-1.28,0.31),(-1.26,0.21),(-1.23,0.24),(-1.25,0.14)]
C19 = [(0.79,-0.42),(0.79,-0.46),(0.91,-0.38),(1.02,-0.45),(0.98,-0.51),(1.00,-0.54),(1.01,-0.47),(1.09,-0.51),(0.76,-0.52),(0.75,-0.57),(0.82,-0.58),(0.72,-0.63),(0.86,-0.64),(0.94,-0.60),(0.99,-0.62),(0.99,-0.67),(1.06,-0.65),(1.07,-0.62),(0.67,-0.69),(0.71,-0.70),(0.75,-0.67),(0.79,-0.71),(0.82,-0.70),(0.85,-0.73),(0.91,-0.70),(0.91,-0.67),(0.99,-0.71),(0.98,-0.76),(1.02,-0.74),(1.09,-0.76),(1.11,-0.77),(1.12,-0.80),(1.17,-0.68),(1.19,-0.70),(1.23,-0.63),(1.22,-0.66),(1.26,-0.71),(1.21,-0.74),(1.17,-0.75),(1.27,-0.77),(1.22,-0.76),(1.20,-0.78),(1.19,-0.80),(1.35,-0.56),(1.37,-0.69),(1.40,-0.72),(1.45,-0.70),(1.42,-0.81),(1.50,-0.83),(1.60,-0.82),(0.80,-0.76),(0.80,-0.80),(0.87,-0.81),(0.86,-0.85),(0.89,-0.81),(0.67,-0.80),(0.72,-0.84),(0.59,-0.88),(0.75,-0.88),(0.71,-0.89),(0.70,-0.93),(0.73,-0.93),(0.85,-0.90),(0.84,-0.94),(0.88,-0.93),(0.90,-0.93),(0.96,-0.82),(1.02,-0.80),(0.96,-0.86),(1.00,-0.87),(1.03,-0.88),(1.15,-0.88),(1.17,-0.87),(1.22,-0.86),(1.17,-0.84),(1.23,-0.84),(1.27,-0.82),(1.32,-0.86),(1.32,-0.90),(1.35,-0.91),(1.39,-0.89),(1.43,-0.89),(1.50,-0.90),(1.39,-0.95),(1.41,-0.95),(1.19,-0.92),(0.79,-0.98),(0.82,-0.99),(0.84,-1.02),(0.86,-1.07),(0.93,-0.99),(0.97,-0.99),(0.98,-1.00),(1.01,-0.98),(1.03,-1.00),(1.07,-0.98),(1.06,-1.02),(1.08,-1.04),(1.15,-0.99),(1.19,-0.98),(1.16,-0.98),(1.26,-0.98),(1.27,-1.01),(1.30,-0.98),(1.36,-0.99),(1.35,-1.01),(1.38,-1.03),(1.41,-1.04),(1.27,-1.03),(1.22,-1.04),(1.13,-1.05),(0.95,-1.06),(0.92,-1.05),(1.08,-1.08),(1.03,-1.13),(0.77,-1.11),(1.56,-0.98),(1.49,-0.97),(1.49,-1.03),(1.52,-1.02),(1.64,-1.02),(1.61,-1.07),(1.68,-0.94),(0.94,-1.14),(0.95,-1.18),(0.86,-1.17),(0.81,-1.20),(0.91,-1.23),(1.12,-1.15),(1.15,-1.12),(1.11,-1.16)]

CLUSTERS = [C0, C1, C2, C3, C4, C5, C6, C7, C8, C9, C10, C11, C12, C13, C14, C15, C16, C17, C18, C19]

xs, ys, colors = [], [], []
for label, pts in enumerate(CLUSTERS):
    for x, y in pts:
        xs.append(x)
        ys.append(y)
        colors.append(POINT_COLORS[label])

# stepped colour scale, one flat band per cluster
n = len(BAR_COLORS)
colorscale = []
for i, c in enumerate(BAR_COLORS):
    colorscale.append([i / n, c])
    colorscale.append([(i + 1) / n, c])

fig = go.Figure()
fig.add_trace(go.Scatter(
    x=xs, y=ys, mode="markers", showlegend=False,
    marker=dict(size=7, color=colors, opacity=0.85, line=dict(color="rgba(35,35,35,0.75)", width=1)),
))
# empty trace that only carries the colour bar
fig.add_trace(go.Scatter(
    x=[None, None], y=[None, None], mode="markers", showlegend=False,
    marker=dict(
        color=[0, 19], cmin=0, cmax=19, colorscale=colorscale,
        colorbar=dict(
            x=1.0635, xanchor="left", y=0.5, yanchor="middle", len=1, lenmode="fraction",
            thickness=35, thicknessmode="pixels", xpad=0, ypad=0,
            outlinecolor="#d8d8d8", outlinewidth=1.5,
            tickmode="array", tickvals=list(range(20)), ticktext=[str(i) for i in range(20)],
            ticks="outside", ticklen=7, tickcolor="#555555", tickwidth=1.5,
            tickfont=dict(family=FONT, size=12, color="#444444"),
        ),
    ),
))

axis_common = dict(
    showgrid=True, gridcolor="#dedede", gridwidth=1.8, zeroline=False,
    showline=True, linecolor="#dedede", linewidth=2, mirror=True, ticks="",
    tickfont=dict(family=FONT, size=13.5, color="#1c1c1c", weight="bold"),
)
fig.update_xaxes(
    range=[-2.216, 2.394], tickmode="array", tickvals=TICKS_X, **axis_common,
    title=dict(text="<b>Principal Component 1</b>", standoff=10,
               font=dict(family=FONT, size=15.5, color="#1c1c1c")),
)
fig.update_yaxes(
    range=[-1.994, 2.054], tickmode="array", tickvals=TICKS_Y, tickformat=".1f", **axis_common,
    title=dict(text="<b>Principal Component 2</b>", standoff=8,
               font=dict(family=FONT, size=15.5, color="#1c1c1c")),
)
fig.add_annotation(
    text="<b>Cluster Label</b>", xref="paper", yref="paper", x=1.185, y=0.499,
    showarrow=False, textangle=-90, font=dict(family=FONT, size=15.5, color="#1c1c1c"),
)
fig.update_layout(
    width=886, height=775,
    margin=dict(l=68.5, r=125, t=22, b=47, autoexpand=False),
    paper_bgcolor="white", plot_bgcolor="white",
    title=dict(text="<b>Cluster Distribution in PCA-Reduced Space</b>", x=0.468, xanchor="center",
               y=0.9865, yanchor="middle", font=dict(family=FONT, size=17.8, color="#1c1c1c")),
)
# the page's default body margin would push the figure 8px down and right
fig.write_html("out.html", config={"displayModeBar": False}, post_script="document.body.style.margin='0';")
